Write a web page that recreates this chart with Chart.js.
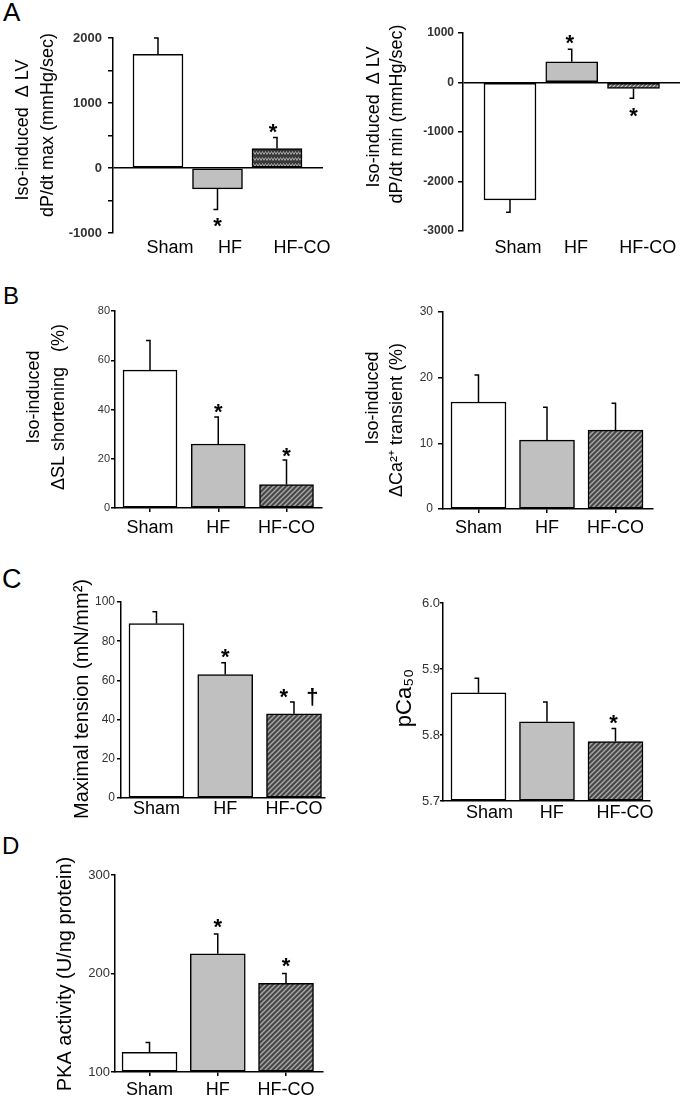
<!DOCTYPE html>
<html>
<head>
<meta charset="utf-8">
<script src="https://cdn.jsdelivr.net/npm/chart.js@4.4.0/dist/chart.umd.min.js"></script>
<style>
html,body{margin:0;padding:0;background:#fff;}
#page{position:relative;width:685px;height:1102px;overflow:hidden;font-family:"Liberation Sans",Arial,sans-serif;background:#fff;}
canvas{position:absolute;}
.lab{position:absolute;line-height:1;color:#000;}
</style>
</head>
<body>
<div id="page">
  <div class="lab" style="left:3px;top:-1px;font-size:26px;">A</div>
  <div class="lab" style="left:3px;top:284px;font-size:24px;">B</div>
  <div class="lab" style="left:2px;top:566px;font-size:27px;">C</div>
  <div class="lab" style="left:2px;top:834px;font-size:24px;">D</div>
  <canvas id="a1" width="340" height="270" style="left:0px;top:0px;"></canvas>
  <canvas id="a2" width="345" height="270" style="left:340px;top:0px;"></canvas>
  <canvas id="b1" width="340" height="270" style="left:0px;top:280px;"></canvas>
  <canvas id="b2" width="345" height="270" style="left:340px;top:280px;"></canvas>
  <canvas id="c1" width="340" height="275" style="left:0px;top:555px;"></canvas>
  <canvas id="c2" width="345" height="275" style="left:340px;top:555px;"></canvas>
  <canvas id="d1" width="340" height="262" style="left:0px;top:840px;"></canvas>
</div>
<script>
// ---------------- DATA ----------------
const categories = ['Sham', 'HF', 'HF-CO'];

// A: Iso-induced change in LV dP/dt max and min (mmHg/sec)
const dPdtMax = [1750, -320, 300];
const dPdtMaxErr = [250, 320, 170];
const dPdtMaxSig = ['', '*', '*'];
const dPdtMin = [-2370, 420, -120];
const dPdtMinErr = [250, 250, 200];
const dPdtMinSig = ['', '*', '*'];

// B: Iso-induced change in SL shortening and Ca2+ transient (%)
const slShortening = [56, 26, 9.5];
const slShorteningErr = [12, 11, 10];
const slShorteningSig = ['', '*', '*'];
const caTransient = [16.3, 10.5, 12.0];
const caTransientErr = [4.1, 5.0, 4.1];
const caTransientSig = ['', '', ''];

// C: Maximal tension (mN/mm2) and pCa50
const maxTension = [89, 63, 43];
const maxTensionErr = [6, 6, 6];
const maxTensionSig = ['', '*', '*   \u2020'];
const pCa50 = [5.864, 5.82, 5.79];
const pCa50Err = [0.022, 0.03, 0.02];
const pCa50Sig = ['', '', '*'];

// D: PKA activity (U/ng protein)
const pkaActivity = [120, 220, 190];
const pkaActivityErr = [10, 20, 10];
const pkaActivitySig = ['', '*', '*'];

// Tick values / labels
const ticksA1 = [-1000, -500, 0, 500, 1000, 1500, 2000];
const tickLabelsA1 = ['-1000', '', '0', '', '1000', '', '2000'];
const ticksA2 = [-3000, -2000, -1000, 0, 1000];
const tickLabelsA2 = ['-3000', '-2000', '-1000', '0', '1000'];
const ticksB1 = [0, 20, 40, 60, 80];
const tickLabelsB1 = ['0', '20', '40', '60', '80'];
const ticksB2 = [0, 10, 20, 30];
const tickLabelsB2 = ['0', '10', '20', '30'];
const ticksC1 = [0, 20, 40, 60, 80, 100];
const tickLabelsC1 = ['0', '20', '40', '60', '80', '100'];
const ticksC2 = [5.7, 5.8, 5.9, 6.0];
const tickLabelsC2 = ['5.7', '5.8', '5.9', '6.0'];
const ticksD = [100, 200, 300];
const tickLabelsD = ['100', '200', '300'];

// ---------------- STYLES ----------------
const SANS = "'Liberation Sans', Arial, sans-serif";
const NARROW = "'Liberation Sans Narrow', 'Liberation Sans', Arial, sans-serif";

function hatch(bg, fg, size, lw) {
  const c = document.createElement('canvas'); c.width = size; c.height = size;
  const g = c.getContext('2d');
  g.fillStyle = bg; g.fillRect(0, 0, size, size);
  g.strokeStyle = fg; g.lineWidth = lw;
  g.beginPath();
  g.moveTo(-1, size + 1); g.lineTo(size + 1, -1);
  g.moveTo(-size / 2 - 1, size / 2 + 1); g.lineTo(size / 2 + 1, -size / 2 - 1);
  g.moveTo(size / 2 - 1, size * 1.5 + 1); g.lineTo(size * 1.5 + 1, size / 2 - 1);
  g.stroke();
  return g.createPattern(c, 'repeat');
}
function zigzag() {
  const c = document.createElement('canvas'); c.width = 6; c.height = 6;
  const g = c.getContext('2d');
  g.fillStyle = '#383838'; g.fillRect(0, 0, 6, 6);
  g.strokeStyle = '#a5a5a5'; g.lineWidth = 1;
  g.beginPath(); g.moveTo(0, 4.5); g.lineTo(1.5, 1.5); g.lineTo(3, 4.5); g.lineTo(4.5, 1.5); g.lineTo(6, 4.5); g.stroke();
  return g.createPattern(c, 'repeat');
}
const WHITE = '#ffffff', GRAY = '#c0c0c0';
const HATCH = hatch('#474747', '#a9a9a9', 5, 1.4);
const HATCH_LIGHT = hatch('#5a5a5a', '#c8c8c8', 4, 1.2);
const ZIG = zigzag();

// ---------------- PLUGINS ----------------
const specs = {};
const errPlugin = {
  id: 'errbarsSig',
  afterDatasetsDraw(chart) {
    const sp = specs[chart.canvas.id];
    const meta = chart.getDatasetMeta(0);
    const ys = chart.scales.y;
    const ctx = chart.ctx;
    ctx.save();
    ctx.strokeStyle = '#000'; ctx.lineWidth = 1.5;
    sp.values.forEach((v, i) => {
      const bar = meta.data[i];
      const dir = v >= 0 ? 1 : -1;
      const end = v + dir * sp.err[i];
      const y0 = ys.getPixelForValue(v), y1 = ys.getPixelForValue(end);
      ctx.beginPath();
      ctx.moveTo(bar.x, y0); ctx.lineTo(bar.x, y1);
      ctx.moveTo(bar.x - 4, y1); ctx.lineTo(bar.x + 0.75, y1);
      ctx.stroke();
      if (sp.sig[i]) {
        const fs = sp.sigSize;
        ctx.font = 'bold ' + fs + 'px ' + SANS;
        ctx.fillStyle = '#000';
        ctx.textAlign = 'center';
        ctx.textBaseline = 'alphabetic';
        const cy = y1 - dir * sp.sigGap;
        ctx.fillText(sp.sig[i], bar.x + (sp.sigDx ? sp.sigDx[i] : 0), cy + 0.57 * fs);
      }
    });
    ctx.restore();
  }
};
const titlePlugin = {
  id: 'yTitleLines',
  afterDraw(chart) {
    const sp = specs[chart.canvas.id];
    const ctx = chart.ctx;
    ctx.save();
    ctx.fillStyle = '#000';
    ctx.font = sp.titleSize + 'px ' + SANS;
    ctx.textAlign = 'center'; ctx.textBaseline = 'middle';
    sp.title.forEach((t, i) => {
      ctx.save();
      ctx.translate(sp.titleX[i], sp.titleY[i]);
      ctx.rotate(-Math.PI / 2);
      ctx.fillText(t, 0, 0);
      ctx.restore();
    });
    ctx.restore();
  }
};

function build(id, o) {
  specs[id] = o;
  const cv = document.getElementById(id);
  const W = cv.width, H = cv.height;
  new Chart(cv.getContext('2d'), {
    type: 'bar',
    data: {
      datasets: [{
        data: o.values.map((v, i) => ({x: i + 1, y: v})),
        backgroundColor: o.fills,
        borderColor: '#000',
        borderWidth: 1.5,
        borderSkipped: false,
        barThickness: o.barW,
        base: o.base
      }]
    },
    options: {
      responsive: false, animation: false, events: [], devicePixelRatio: 1,
      layout: {padding: {top: o.area.t, right: W - o.area.r, left: 0, bottom: 0}},
      plugins: {legend: {display: false}, tooltip: {enabled: false}},
      scales: {
        x: {
          type: 'linear', min: o.xmin, max: o.xmax, offset: false,
          afterFit: s => { s.height = H - o.area.b; s.paddingLeft = 0; s.paddingRight = 0; },
          afterBuildTicks: s => { s.ticks = categories.map((c, i) => ({value: i + 1 + o.shift[i]})); },
          ticks: {
            callback: (v, i) => categories[i],
            font: {family: o.xFamily || SANS, size: o.xSize},
            color: '#000', padding: o.xPad, maxRotation: 0, minRotation: 0, autoSkip: false
          },
          grid: {display: o.xTicks, offset: false, drawOnChartArea: false, drawTicks: o.xTicks, tickLength: 4, tickColor: '#000', lineWidth: 1.5},
          border: {display: o.xBorder, color: '#000', width: 1.5}
        },
        y: {
          min: o.ymin, max: o.ymax,
          afterFit: s => { s.width = o.area.l; s.paddingTop = 0; s.paddingBottom = 0; },
          afterBuildTicks: s => { s.ticks = o.yTicks.map(v => ({value: v})); },
          ticks: {
            callback: (v, i) => o.yLabels[i],
            font: {family: o.yFamily || SANS, size: o.ySize, weight: o.yWeight || 'normal'},
            color: '#333', padding: o.yPad, autoSkip: false
          },
          grid: {
            drawOnChartArea: !!o.zero,
            color: c => (o.zero && c.tick && c.tick.value === 0) ? '#000' : 'rgba(0,0,0,0)',
            tickColor: '#000', tickLength: o.yTl, lineWidth: 1.5
          },
          border: {display: true, color: '#000', width: 1.5}
        }
      }
    },
    plugins: [errPlugin, titlePlugin]
  });
}

// A left
build('a1', {
  values: dPdtMax, err: dPdtMaxErr, sig: dPdtMaxSig, fills: [WHITE, GRAY, ZIG], base: 0,
  area: {l: 113, t: 38, r: 323, b: 233}, ymin: -1000, ymax: 2000,
  yTicks: ticksA1, yLabels: tickLabelsA1, ySize: 13, yWeight: 'bold', yPad: 6, yTl: 5, zero: true,
  xmin: 0.244, xmax: 3.773, shift: [0.2, 0.21, 0.42], xSize: 18, xPad: 4, xTicks: false, xBorder: false,
  barW: 50, sigSize: 22, sigGap: 11, sigDx: [0, 0, -4],
  title: ['Iso-induced  \u0394 LV', 'dP/dt max (mmHg/sec)'], titleSize: 18, titleX: [23, 48], titleY: [130, 125]
});
// A right
build('a2', {
  values: dPdtMin, err: dPdtMinErr, sig: dPdtMinSig, fills: [WHITE, GRAY, HATCH_LIGHT], base: 0,
  area: {l: 123, t: 33, r: 340, b: 231}, ymin: -3000, ymax: 1000,
  yTicks: ticksA2, yLabels: tickLabelsA2, ySize: 12, yWeight: 'bold', yPad: 4, yTl: 5, zero: true,
  xmin: 0.239, xmax: 3.753, shift: [0.13, 0.07, 0.23], xSize: 18, xPad: 6, xTicks: false, xBorder: false,
  barW: 52, sigSize: 22, sigGap: 12, sigDx: [0, -2, 0],
  title: ['Iso-induced  \u0394 LV', 'dP/dt min (mmHg/sec)'], titleSize: 18, titleX: [34, 57], titleY: [117, 114]
});
// B left
build('b1', {
  values: slShortening, err: slShorteningErr, sig: slShorteningSig, fills: [WHITE, GRAY, HATCH], base: 0,
  area: {l: 115, t: 31, r: 322, b: 228}, ymin: 0, ymax: 80,
  yTicks: ticksB1, yLabels: tickLabelsB1, ySize: 11, yPad: 1, yTl: 4,
  xmin: 0.487, xmax: 3.52, shift: [0, 0, 0], xSize: 18, xPad: 5, xTicks: true, xBorder: true,
  barW: 54, sigSize: 22, sigGap: 10,
  title: ['Iso-induced', '\u0394SL shortening   (%)'], titleSize: 18, titleX: [34, 59], titleY: [117, 127]
});
// B right
build('b2', {
  values: caTransient, err: caTransientErr, sig: caTransientSig, fills: [WHITE, GRAY, HATCH], base: 0,
  area: {l: 103, t: 32, r: 313, b: 229}, ymin: 0, ymax: 30,
  yTicks: ticksB2, yLabels: tickLabelsB2, ySize: 12, yPad: 5, yTl: 5,
  xmin: 0.482, xmax: 3.547, shift: [0, 0, 0], xSize: 18, xPad: 4, xTicks: true, xBorder: true,
  barW: 55, sigSize: 22, sigGap: 10,
  title: ['Iso-induced', '\u0394Ca\u00b2\u207a transient (%)'], titleSize: 18, titleX: [33, 57], titleY: [118, 140]
});
// C left
build('c1', {
  values: maxTension, err: maxTensionErr, sig: maxTensionSig, fills: [WHITE, GRAY, HATCH], base: 0,
  area: {l: 121, t: 47, r: 325, b: 243}, ymin: 0, ymax: 100,
  yTicks: ticksC1, yLabels: tickLabelsC1, ySize: 12, yFamily: NARROW, yPad: 2, yTl: 4,
  xmin: 0.484, xmax: 3.451, shift: [0, 0, 0], xSize: 18, xFamily: NARROW, xPad: 0, xTicks: false, xBorder: true,
  barW: 55, sigSize: 22, sigGap: 11, sigDx: [0, 0, 5],
  title: ['Maximal tension (mN/mm\u00b2)'], titleSize: 20, titleX: [82], titleY: [144]
});
// C right
build('c2', {
  values: pCa50, err: pCa50Err, sig: pCa50Sig, fills: [WHITE, GRAY, HATCH], base: 5.7,
  area: {l: 103, t: 48, r: 310, b: 246}, ymin: 5.7, ymax: 6.0,
  yTicks: ticksC2, yLabels: tickLabelsC2, ySize: 13, yPad: 0, yTl: 3,
  xmin: 0.482, xmax: 3.504, shift: [0.16, 0.07, 0.14], xSize: 18, xPad: 1, xTicks: false, xBorder: true,
  barW: 55, sigSize: 22, sigGap: 11, sigDx: [0, 0, -2],
  title: ['pCa\u2085\u2080'], titleSize: 22, titleX: [65], titleY: [143]
});
// D
build('d1', {
  values: pkaActivity, err: pkaActivityErr, sig: pkaActivitySig, fills: [WHITE, GRAY, HATCH], base: 100,
  area: {l: 115, t: 35, r: 323, b: 232}, ymin: 100, ymax: 300,
  yTicks: ticksD, yLabels: tickLabelsD, ySize: 13, yPad: 1, yTl: 4,
  xmin: 0.494, xmax: 3.542, shift: [0, 0, 0], xSize: 18, xPad: 3, xTicks: true, xBorder: true,
  barW: 55, sigSize: 22, sigGap: 13,
  title: ['PKA activity (U/ng protein)'], titleSize: 20, titleX: [65], titleY: [134]
});
</script>
</body>
</html>
